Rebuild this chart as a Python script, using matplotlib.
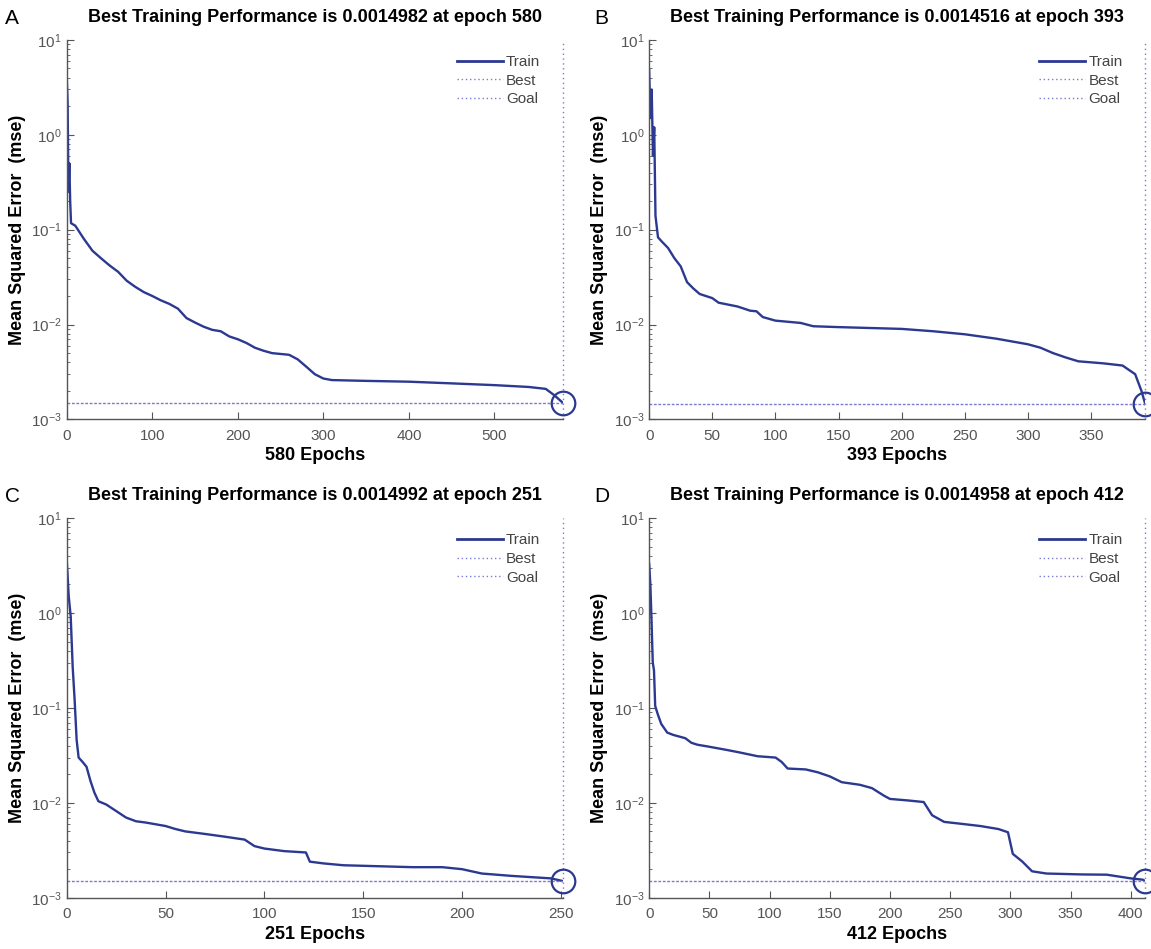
import matplotlib.pyplot as plt
import numpy as np
from matplotlib.lines import Line2D
from matplotlib.ticker import LogLocator, MultipleLocator

plt.rcParams['font.family'] = ['Liberation Sans', 'DejaVu Sans']
plt.rcParams['mathtext.default'] = 'regular'

# panel A: 580 epochs
epochs_a = [0, 1, 2, 3, 4, 5, 10, 20, 30, 40, 50, 60, 70, 80, 90, 100, 110, 120, 130,
            140, 150, 160, 170, 180, 190, 200, 210, 220, 230, 240, 260, 270, 280, 290,
            300, 310, 350, 400, 450, 500, 540, 560, 570, 580]
mse_a = [4.0, 2.2, 0.25, 0.5, 0.2, 0.117, 0.11, 0.08, 0.06, 0.05, 0.042, 0.036, 0.029,
         0.025, 0.022, 0.020, 0.018, 0.0165, 0.0147, 0.0117, 0.0105, 0.0095, 0.0088,
         0.0085, 0.0075, 0.007, 0.0064, 0.0057, 0.0053, 0.005, 0.0048, 0.0043, 0.0036,
         0.0030, 0.0027, 0.0026, 0.00255, 0.0025, 0.0024, 0.0023, 0.0022, 0.0021, 0.0018,
         0.0014982]

# panel B: 393 epochs
epochs_b = [0, 1, 2, 3, 4, 5, 7, 10, 15, 20, 25, 30, 35, 40, 50, 55, 70, 80, 85, 90, 100,
            120, 130, 150, 200, 225, 250, 275, 300, 310, 320, 330, 340, 360, 375, 385,
            390, 393]
mse_b = [4.8, 1.5, 3.0, 0.6, 1.2, 0.14, 0.083, 0.075, 0.064, 0.05, 0.041, 0.028, 0.024,
         0.021, 0.019, 0.017, 0.0155, 0.014, 0.0138, 0.012, 0.011, 0.0104, 0.0096, 0.0094,
         0.009, 0.0085, 0.0079, 0.0071, 0.0062, 0.0057, 0.0050, 0.0045, 0.0041, 0.0039,
         0.0037, 0.003, 0.002, 0.0014516]

# panel C: 251 epochs
epochs_c = [0, 1, 2, 3, 4, 5, 6, 8, 10, 12, 14, 16, 20, 25, 30, 35, 40, 50, 55, 60, 70,
            80, 90, 95, 100, 110, 121, 123, 130, 140, 175, 190, 200, 210, 225, 245, 251]
mse_c = [3.6, 1.5, 0.92, 0.27, 0.12, 0.046, 0.03, 0.027, 0.024, 0.017, 0.0128, 0.0104,
         0.0096, 0.0082, 0.007, 0.0064, 0.0062, 0.0057, 0.0053, 0.0050, 0.0047, 0.0044,
         0.0041, 0.0035, 0.0033, 0.0031, 0.0030, 0.0024, 0.0023, 0.0022, 0.0021, 0.0021,
         0.0020, 0.0018, 0.0017, 0.0016, 0.0014992]

# panel D: 412 epochs
epochs_d = [0, 1, 2, 3, 4, 5, 7, 10, 15, 20, 30, 35, 40, 50, 65, 75, 90, 105, 110, 115,
            130, 140, 150, 160, 175, 185, 195, 200, 215, 228, 235, 245, 260, 275, 290,
            298, 302, 310, 318, 330, 360, 380, 400, 410, 412]
mse_d = [3.3, 2.0, 0.8, 0.3, 0.25, 0.105, 0.087, 0.068, 0.055, 0.052, 0.048, 0.043,
         0.041, 0.039, 0.036, 0.034, 0.031, 0.030, 0.027, 0.023, 0.0225, 0.021, 0.019,
         0.0165, 0.0155, 0.0143, 0.0119, 0.011, 0.0106, 0.0102, 0.0074, 0.0063, 0.006,
         0.0057, 0.0053, 0.0049, 0.0029, 0.0024, 0.0019, 0.0018, 0.00176, 0.00175, 0.0016,
         0.00155, 0.0014958]

panels = [
    ('A', epochs_a, mse_a, 580, 0.0014982, 100),
    ('B', epochs_b, mse_b, 393, 0.0014516, 50),
    ('C', epochs_c, mse_c, 251, 0.0014992, 50),
    ('D', epochs_d, mse_d, 412, 0.0014958, 50),
]

# axes rectangles in figure fractions (left, bottom, width, height)
rects = [
    (0.058, 0.558, 0.431, 0.400),
    (0.564, 0.558, 0.431, 0.400),
    (0.058, 0.054, 0.431, 0.400),
    (0.564, 0.054, 0.431, 0.400),
]
letter_pos = [(0.004, 0.99), (0.516, 0.99), (0.004, 0.487), (0.516, 0.487)]

train_col = '#2b3990'
best_col = '#7a7ad0'
grey = '#555555'

fig = plt.figure(figsize=(11.51, 9.49), dpi=100)

for (letter, ep, mse, n, best, step), rect, lp in zip(panels, rects, letter_pos):
    ax = fig.add_axes(rect)
    ax.set_yscale('log')
    ax.plot(ep, mse, color=train_col, lw=1.7, label='Train')
    ax.plot([n, n], [1e-3, 1e1], color=best_col, lw=1.0, ls=(0, (1, 2.5)), clip_on=False)
    ax.plot([0, n], [best, best], color=best_col, lw=1.0, ls=(0, (2, 1.2)))
    ax.plot([n], [best], marker='o', ms=17, mfc='none', mec=train_col, mew=1.6,
            clip_on=False)
    ax.set_xlim(0, n)
    ax.set_ylim(1e-3, 1e1)
    ax.xaxis.set_major_locator(MultipleLocator(step))
    ax.yaxis.set_major_locator(LogLocator(base=10))
    ax.yaxis.set_minor_locator(LogLocator(base=10, subs=np.arange(2, 10)))
    ax.yaxis.set_minor_formatter(plt.NullFormatter())
    for s in ['top', 'right']:
        ax.spines[s].set_visible(False)
    for s in ['left', 'bottom']:
        ax.spines[s].set_color(grey)
        ax.spines[s].set_linewidth(1.0)
    ax.tick_params(which='both', direction='in', colors=grey, labelsize=11)
    ax.tick_params(axis='x', pad=7)
    ax.tick_params(which='major', length=5)
    ax.tick_params(which='minor', length=2.5)
    ax.set_title('Best Training Performance is %.7f at epoch %d' % (best, n),
                 fontsize=13, fontweight='bold', pad=13)
    ax.set_xlabel('%d Epochs' % n, fontsize=13, fontweight='bold', labelpad=3)
    ax.set_ylabel('Mean Squared Error  (mse)', fontsize=13, fontweight='bold',
                  labelpad=4)
    handles = [
        Line2D([], [], color=train_col, lw=2.0),
        Line2D([], [], color=best_col, lw=1.0, ls=(0, (1, 2))),
        Line2D([], [], color=best_col, lw=1.0, ls=(0, (1, 2))),
    ]
    leg = ax.legend(handles, ['Train', 'Best', 'Goal'], loc='upper right', frameon=False,
                    fontsize=11, handlelength=3.0, handletextpad=0.2, labelspacing=0.3,
                    borderaxespad=0.6, bbox_to_anchor=(0.985, 1.0))
    for t in leg.get_texts():
        t.set_color('#444444')
    fig.text(lp[0], lp[1], letter, fontsize=15, va='top', ha='left')

fig.savefig('out.png', dpi=100)
